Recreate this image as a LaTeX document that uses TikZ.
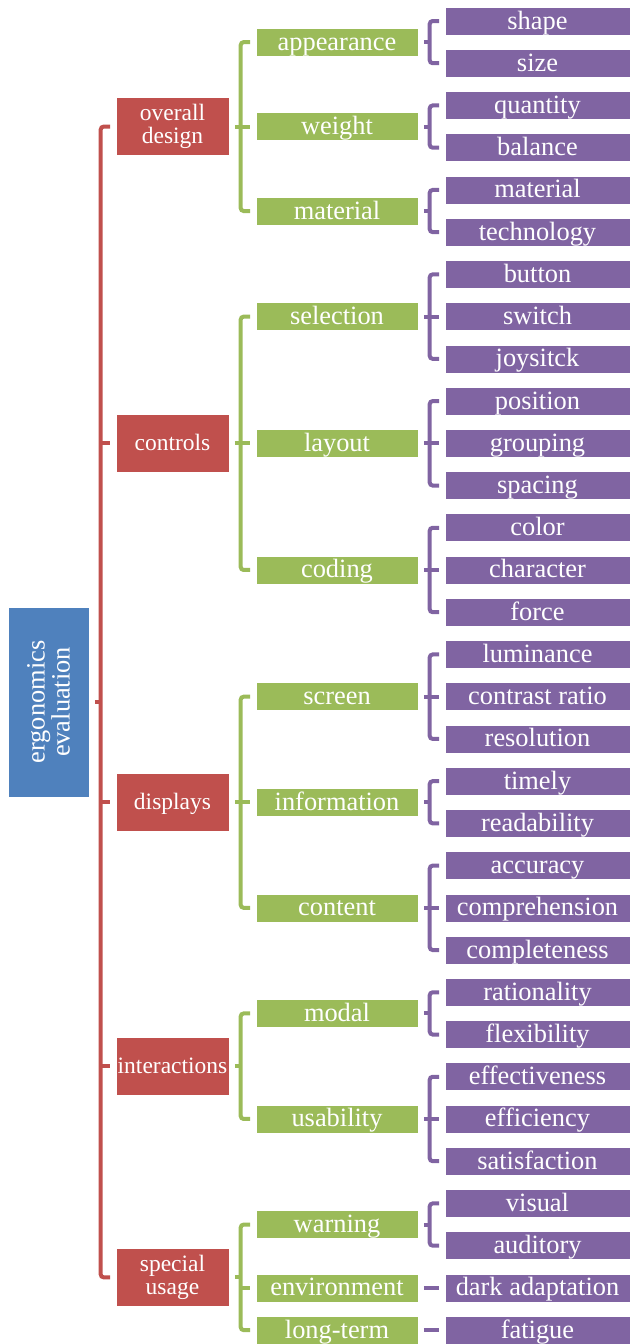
\documentclass[tikz,border=0pt]{standalone}
\usepackage{fontspec}
\setmainfont{Liberation Serif}
\usetikzlibrary{calc}
\definecolor{cblue}{HTML}{4F81BD}
\definecolor{cred}{HTML}{C0504D}
\definecolor{cgreen}{HTML}{9BBB59}
\definecolor{cpurple}{HTML}{8064A2}
\newcommand\boxfont{\fontsize{26.4}{25}\selectfont}
\newcommand\redfont{\fontsize{23.5}{23}\selectfont}
% vertical position of leaf row #1
\newcommand\ry[1]{21+42.23*(#1)}
\tikzset{
  box/.style={fill=#1, draw=white, line width=0.6pt, inner sep=0pt,
    text=white, font=\boxfont},
  oneline/.style={text height=19pt, text depth=3pt},
  pbox/.style={box=cpurple, oneline, minimum width=185pt, minimum height=28pt},
  gbox/.style={box=cgreen, oneline, minimum width=162pt, minimum height=28pt},
  rbox2/.style={box=cred, font=\redfont, minimum width=113pt, minimum height=58pt,
    align=center},
  rbox/.style={rbox2, text height=17pt, text depth=3pt},
  bbox/.style={box=cblue, minimum width=190pt, minimum height=81pt, align=center,
    rotate=90},
  link/.style={draw=#1, line width=4pt},
}
% bracket from parent anchor #2 to children #3 (first) .. #4 (last)
\newcommand\kids[4]{%
  \draw[link=#1, rounded corners=3pt] ([xshift=-5.5pt]#3.west) -- ($(#3.west)+(-15,0)$)
    -- ($(#4.west)+(-15,0)$) -- ([xshift=-5.5pt]#4.west);
  \draw[link=#1] ([xshift=5.5pt]#2) -- ($(#2 -| #3.west)+(-15,0)$);
}
% tick to a middle child #2
\newcommand\midtick[2]{%
  \draw[link=#1] ($(#2.west)+(-15,0)$) -- ([xshift=-5.5pt]#2.west);
}
\begin{document}
\begin{tikzpicture}[x=1pt, y=-1pt]
\useasboundingbox (0,0) rectangle (630,1344);

% leaves
\node[pbox] (shape)      at (537.5,{\ry{0}})  {shape};
\node[pbox] (size)       at (537.5,{\ry{1}})  {size};
\node[pbox] (quantity)   at (537.5,{\ry{2}})  {quantity};
\node[pbox] (balance)    at (537.5,{\ry{3}})  {balance};
\node[pbox] (pmaterial)  at (537.5,{\ry{4}})  {material};
\node[pbox] (technology) at (537.5,{\ry{5}})  {technology};
\node[pbox] (button)     at (537.5,{\ry{6}})  {button};
\node[pbox] (switch)     at (537.5,{\ry{7}})  {switch};
\node[pbox] (joystick)   at (537.5,{\ry{8}})  {joysitck};
\node[pbox] (position)   at (537.5,{\ry{9}})  {position};
\node[pbox] (grouping)   at (537.5,{\ry{10}}) {grouping};
\node[pbox] (spacing)    at (537.5,{\ry{11}}) {spacing};
\node[pbox] (color)      at (537.5,{\ry{12}}) {color};
\node[pbox] (character)  at (537.5,{\ry{13}}) {character};
\node[pbox] (force)      at (537.5,{\ry{14}}) {force};
\node[pbox] (luminance)  at (537.5,{\ry{15}}) {luminance};
\node[pbox] (contrast)   at (537.5,{\ry{16}}) {contrast ratio};
\node[pbox] (resolution) at (537.5,{\ry{17}}) {resolution};
\node[pbox] (timely)     at (537.5,{\ry{18}}) {timely};
\node[pbox] (readability) at (537.5,{\ry{19}}) {readability};
\node[pbox] (accuracy)   at (537.5,{\ry{20}}) {accuracy};
\node[pbox] (comprehension) at (537.5,{\ry{21}}) {comprehension};
\node[pbox] (completeness) at (537.5,{\ry{22}}) {completeness};
\node[pbox] (rationality) at (537.5,{\ry{23}}) {rationality};
\node[pbox] (flexibility) at (537.5,{\ry{24}}) {flexibility};
\node[pbox] (effectiveness) at (537.5,{\ry{25}}) {effectiveness};
\node[pbox] (efficiency) at (537.5,{\ry{26}}) {efficiency};
\node[pbox] (satisfaction) at (537.5,{\ry{27}}) {satisfaction};
\node[pbox] (visual)     at (537.5,{\ry{28}}) {visual};
\node[pbox] (auditory)   at (537.5,{\ry{29}}) {auditory};
\node[pbox] (dark)       at (537.5,{\ry{30}}) {dark adaptation};
\node[pbox] (fatigue)    at (537.5,{\ry{31}}) {fatigue};

% second level
\node[gbox] (appearance)  at (337,{\ry{0.5}})  {appearance};
\node[gbox] (weight)      at (337,{\ry{2.5}})  {weight};
\node[gbox] (material)    at (337,{\ry{4.5}})  {material};
\node[gbox] (selection)   at (337,{\ry{7}})    {selection};
\node[gbox] (layout)      at (337,{\ry{10}})   {layout};
\node[gbox] (coding)      at (337,{\ry{13}})   {coding};
\node[gbox] (screen)      at (337,{\ry{16}})   {screen};
\node[gbox] (information) at (337,{\ry{18.5}}) {information};
\node[gbox] (content)     at (337,{\ry{21}})   {content};
\node[gbox] (modal)       at (337,{\ry{23.5}}) {modal};
\node[gbox] (usability)   at (337,{\ry{26}})   {usability};
\node[gbox] (warning)     at (337,{\ry{28.5}}) {warning};
\node[gbox] (environment) at (337,{\ry{30}})   {environment};
\node[gbox] (longterm)    at (337,{\ry{31}})   {long-term};

% first level
\node[rbox2] (design)       at (172.5,{\ry{2.5}})   {overall\\design};
\node[rbox]  (controls)     at (172.5,{\ry{10}})    {controls};
\node[rbox]  (displays)     at (172.5,{\ry{18.5}})  {displays};
\node[rbox]  (interactions) at (172.5,{\ry{24.75}}) {interactions};
\node[rbox2] (special)      at (172.5,{\ry{29.75}}) {special\\usage};

% root (rotated: its south side faces right)
\node[bbox] (root) at (48.5,{\ry{16.125}}) {ergonomics\\evaluation};

% root brackets
\kids{cred}{root.south}{design}{special}
\midtick{cred}{controls}
\midtick{cred}{displays}
\midtick{cred}{interactions}

% first level brackets
\kids{cgreen}{design.east}{appearance}{material}
\midtick{cgreen}{weight}
\kids{cgreen}{controls.east}{selection}{coding}
\midtick{cgreen}{layout}
\kids{cgreen}{displays.east}{screen}{content}
\midtick{cgreen}{information}
\kids{cgreen}{interactions.east}{modal}{usability}
\kids{cgreen}{special.east}{warning}{longterm}
\midtick{cgreen}{environment}

% second level brackets
\kids{cpurple}{appearance.east}{shape}{size}
\kids{cpurple}{weight.east}{quantity}{balance}
\kids{cpurple}{material.east}{pmaterial}{technology}
\kids{cpurple}{selection.east}{button}{joystick}
\midtick{cpurple}{switch}
\kids{cpurple}{layout.east}{position}{spacing}
\midtick{cpurple}{grouping}
\kids{cpurple}{coding.east}{color}{force}
\midtick{cpurple}{character}
\kids{cpurple}{screen.east}{luminance}{resolution}
\midtick{cpurple}{contrast}
\kids{cpurple}{information.east}{timely}{readability}
\kids{cpurple}{content.east}{accuracy}{completeness}
\midtick{cpurple}{comprehension}
\kids{cpurple}{modal.east}{rationality}{flexibility}
\kids{cpurple}{usability.east}{effectiveness}{satisfaction}
\midtick{cpurple}{efficiency}
\kids{cpurple}{warning.east}{visual}{auditory}
\draw[link=cpurple] ([xshift=5.5pt]environment.east) -- ([xshift=-5.5pt]dark.west);
\draw[link=cpurple] ([xshift=5.5pt]longterm.east) -- ([xshift=-5.5pt]fatigue.west);
\end{tikzpicture}
\end{document}
